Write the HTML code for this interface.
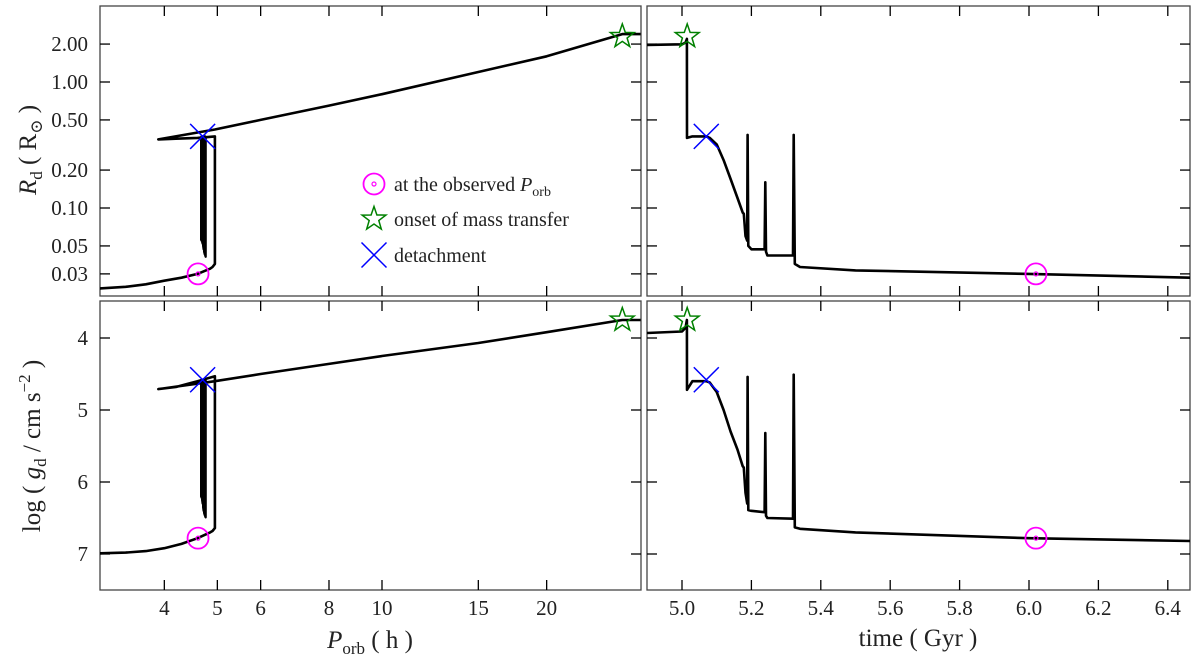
<!DOCTYPE html>
<html><head><meta charset="utf-8"><style>
body{margin:0;background:#fff;}
svg{display:block;font-family:"Liberation Serif","DejaVu Serif",serif;}
</style></head><body>
<svg id="fig" width="1200" height="660" viewBox="0 0 1200 660" xmlns="http://www.w3.org/2000/svg">
<defs>
<clipPath id="cTL"><rect x="100" y="6" width="541" height="290"/></clipPath>
<clipPath id="cTR"><rect x="647" y="6" width="543" height="290"/></clipPath>
<clipPath id="cBL"><rect x="100" y="301" width="541" height="289"/></clipPath>
<clipPath id="cBR"><rect x="647" y="301" width="543" height="289"/></clipPath>
</defs>
<g id="layer"></g>
</svg>
<script>
// ---- data ----
const leftP = [29.7,27.5,20,15,10,8,6,4.95,3.9,4.2,4.6,4.95,4.95,4.9,4.85,4.6,4.3,4.0,3.7,3.4,3.05];
const leftR = [2.4,2.4,1.6,1.2,0.80,0.65,0.50,0.42,0.35,0.355,0.36,0.37,0.036,0.034,0.033,0.030,0.028,0.0265,0.0248,0.0237,0.023];
const leftG = [3.75,3.75,3.92,4.07,4.25,4.36,4.5,4.6,4.71,4.68,4.6,4.53,6.64,6.68,6.7,6.78,6.86,6.92,6.96,6.98,6.99];
const oscP = [4.67,4.68,4.69,4.70,4.71,4.72,4.73,4.74,4.75,4.76];
const oscRlo = [0.056,0.055,0.054,0.052,0.05,0.047,0.045,0.043,0.042,0.041];
const oscGlo = [6.2,6.22,6.25,6.3,6.35,6.4,6.43,6.46,6.48,6.49];
const oscRtop = 0.37, oscGtop = 4.58;
const timeT = [4.899,5.0,5.010,5.014,5.0145,5.03,5.07,5.08,5.10,5.12,5.14,5.16,5.175,5.178,5.183,5.188,5.189,5.191,5.20,5.238,5.240,5.242,5.246,5.32,5.322,5.325,5.34,5.5,6.0,6.465];
const timeR = [1.97,1.99,2.05,2.2,0.36,0.37,0.37,0.36,0.32,0.24,0.17,0.12,0.092,0.09,0.06,0.055,0.38,0.05,0.047,0.047,0.16,0.045,0.042,0.042,0.38,0.036,0.034,0.032,0.030,0.028];
const timeG = [3.93,3.91,3.86,3.75,4.72,4.6,4.6,4.62,4.75,5.0,5.3,5.55,5.78,5.8,6.15,6.3,4.54,6.39,6.40,6.42,5.32,6.47,6.50,6.51,4.51,6.63,6.65,6.70,6.78,6.82];
const obsP = 4.61, obsR = 0.030, obsG = 6.78, obsT = 6.02;
const onsetP = 27.5, onsetR = 2.3, onsetG = 3.75, onsetT = 5.015;
const detP = 4.7, detR = 0.37, detG = 4.58, detT = 5.07;
const pTicks = [4,5,6,8,10,15,20];
const pTickLabels = ["4","5","6","8","10","15","20"];
const tTicks = [5.0,5.2,5.4,5.6,5.8,6.0,6.2,6.4];
const tTickLabels = ["5.0","5.2","5.4","5.6","5.8","6.0","6.2","6.4"];
const rTicks = [2,1,0.5,0.2,0.1,0.05,0.03];
const rTickLabels = ["2.00","1.00","0.50","0.20","0.10","0.05","0.03"];
const gTicks = [4,5,6,7];
const gTickLabels = ["4","5","6","7"];

// ---- scales ----
const xP = p => 382 + 547*(Math.log10(p)-1);
const xT = t => 682 + 347*(t-5.0);
const yR = r => 82 - 126*Math.log10(r);
const yG = g => 338 + 72*(g-4);
const L={x0:100,x1:641}, R={x0:647,x1:1190}, T={y0:6,y1:296}, B={y0:301,y1:590};
const NS="http://www.w3.org/2000/svg";
const layer=document.getElementById('layer');
function mk(tag,attrs,parent){const e=document.createElementNS(NS,tag);for(const k in attrs)e.setAttribute(k,attrs[k]);(parent||layer).appendChild(e);return e;}

const panels=[[L,T,'top-left-panel'],[R,T,'top-right-panel'],[L,B,'bottom-left-panel'],[R,B,'bottom-right-panel']];
panels.forEach(([px,py,nm])=>{
  const r=mk('rect',{x:px.x0,y:py.y0,width:px.x1-px.x0,height:py.y1-py.y0,fill:'none',stroke:'#444','stroke-width':1.3});
  
  
});
function tickX(x,py){mk('line',{x1:x,x2:x,y1:py.y1,y2:py.y1-10,stroke:'#000','stroke-width':1.3});mk('line',{x1:x,x2:x,y1:py.y0,y2:py.y0+10,stroke:'#000','stroke-width':1.3});}
function tickY(y,px){mk('line',{x1:px.x0,x2:px.x0+10,y1:y,y2:y,stroke:'#000','stroke-width':1.3});mk('line',{x1:px.x1,x2:px.x1-10,y1:y,y2:y,stroke:'#000','stroke-width':1.3});}
[T,B].forEach(py=>{pTicks.forEach(p=>tickX(xP(p),py));tTicks.forEach(t=>tickX(xT(t),py));});
[L,R].forEach(px=>{rTicks.forEach(r=>tickY(yR(r),px));gTicks.forEach(g=>tickY(yG(g),px));});
function txt(s,x,y,anchor,size,nm){const e=mk('text',{x:x,y:y,'text-anchor':anchor,'font-size':size,fill:'#222'});e.textContent=s;return e;}
pTicks.forEach((p,i)=>txt(pTickLabels[i],xP(p),615,'middle',21,'x-tick-label'));
tTicks.forEach((t,i)=>txt(tTickLabels[i],xT(t),615,'middle',21,'x-tick-label'));
rTicks.forEach((r,i)=>txt(rTickLabels[i],88,yR(r)+7,'end',21,'y-tick-label'));
gTicks.forEach((g,i)=>txt(gTickLabels[i],88,yG(g)+7,'end',21,'y-tick-label'));

let a=mk('text',{x:370,y:648,'text-anchor':'middle','font-size':25,fill:'#222'});
a.innerHTML='<tspan font-style="italic">P</tspan><tspan font-size="17" dy="6">orb</tspan><tspan dy="-6"> ( h )</tspan>';


a=txt('time ( Gyr )',918,646,'middle',25,'x-axis-title-time');
a=mk('text',{transform:'translate(36,150) rotate(-90)','text-anchor':'middle','font-size':25,fill:'#222'});
a.innerHTML='<tspan font-style="italic">R</tspan><tspan font-size="17" dy="6">d</tspan><tspan dy="-6"> ( R</tspan><tspan font-size="17" dy="6">⊙</tspan><tspan dy="-6"> )</tspan>';


a=mk('text',{transform:'translate(40,446) rotate(-90)','text-anchor':'middle','font-size':25,fill:'#222'});
a.innerHTML='log ( <tspan font-style="italic">g</tspan><tspan font-size="17" dy="6">d</tspan><tspan dy="-6"> / cm s</tspan><tspan font-size="17" dy="-10">−2</tspan><tspan dy="10"> )</tspan>';



function line(xs,ys,fx,fy,clip,nm,w){const d=xs.map((v,i)=>(i?'L':'M')+fx(v).toFixed(1)+','+fy(ys[i]).toFixed(1)).join('');const e=mk('path',{d:d,fill:'none',stroke:'#000','stroke-width':w||2.6,'stroke-linejoin':'round','clip-path':'url(#'+clip+')'});}
line(leftP,leftR,xP,yR,'cTL','radius-vs-porb-line');
line(leftP,leftG,xP,yG,'cBL','gravity-vs-porb-line');
line(timeT,timeR,xT,yR,'cTR','radius-vs-time-line');
line(timeT,timeG,xT,yG,'cBR','gravity-vs-time-line');
function osc(lo,top,fy,clip,nm){const xs=[],ys=[];oscP.forEach((p,i)=>{xs.push(p,p);ys.push(i%2?lo[i]:top,i%2?top:lo[i]);});line(xs,ys,xP,fy,clip,nm,2.2);}
osc(oscRlo,oscRtop,yR,'cTL','radius-oscillation-band');
osc(oscGlo,oscGtop,yG,'cBL','gravity-oscillation-band');

function circ(x,y,nm){const g=mk('g',{});mk('circle',{cx:x,cy:y,r:10.5,fill:'none',stroke:'#ff00ff','stroke-width':1.8},g);mk('circle',{cx:x,cy:y,r:2,fill:'none',stroke:'#ff00ff','stroke-width':1.2},g);}
function star(x,y,nm){let pts=[];for(let i=0;i<10;i++){const r=i%2?5:12.5,ang=-Math.PI/2+i*Math.PI/5;pts.push((x+r*Math.cos(ang)).toFixed(1)+','+(y+r*Math.sin(ang)).toFixed(1));}const e=mk('polygon',{points:pts.join(' '),fill:'none',stroke:'#008000','stroke-width':1.5});}
function cross(x,y,nm){const s=12.5;const e=mk('path',{d:`M${x-s},${y-s}L${x+s},${y+s}M${x-s},${y+s}L${x+s},${y-s}`,stroke:'#0000ff','stroke-width':1.5});}
circ(xP(obsP),yR(obsR),'observed-porb-marker');circ(xP(obsP),yG(obsG),'observed-porb-marker');
circ(xT(obsT),yR(obsR),'observed-porb-marker');circ(xT(obsT),yG(obsG),'observed-porb-marker');
star(xP(onsetP),yR(onsetR),'onset-marker');star(xP(onsetP),yG(onsetG),'onset-marker');
star(xT(onsetT),yR(onsetR),'onset-marker');star(xT(onsetT),yG(onsetG),'onset-marker');
cross(xP(detP),yR(detR),'detachment-marker');cross(xP(detP),yG(detG),'detachment-marker');
cross(xT(detT),yR(detR),'detachment-marker');cross(xT(detT),yG(detG),'detachment-marker');

const lg=mk('g',{});
circ(374,184,'legend-observed-symbol');star(374,219,'legend-onset-symbol');cross(374,255,'legend-detachment-symbol');
a=mk('text',{x:394,y:191,'font-size':20,fill:'#222'});a.innerHTML='at the observed <tspan font-style="italic">P</tspan><tspan font-size="14" dy="5">orb</tspan>';

txt('onset of mass transfer',394,226,'start',20,'legend-entry-onset');
txt('detachment',394,262,'start',20,'legend-entry-detachment');
</script>
</body></html>
